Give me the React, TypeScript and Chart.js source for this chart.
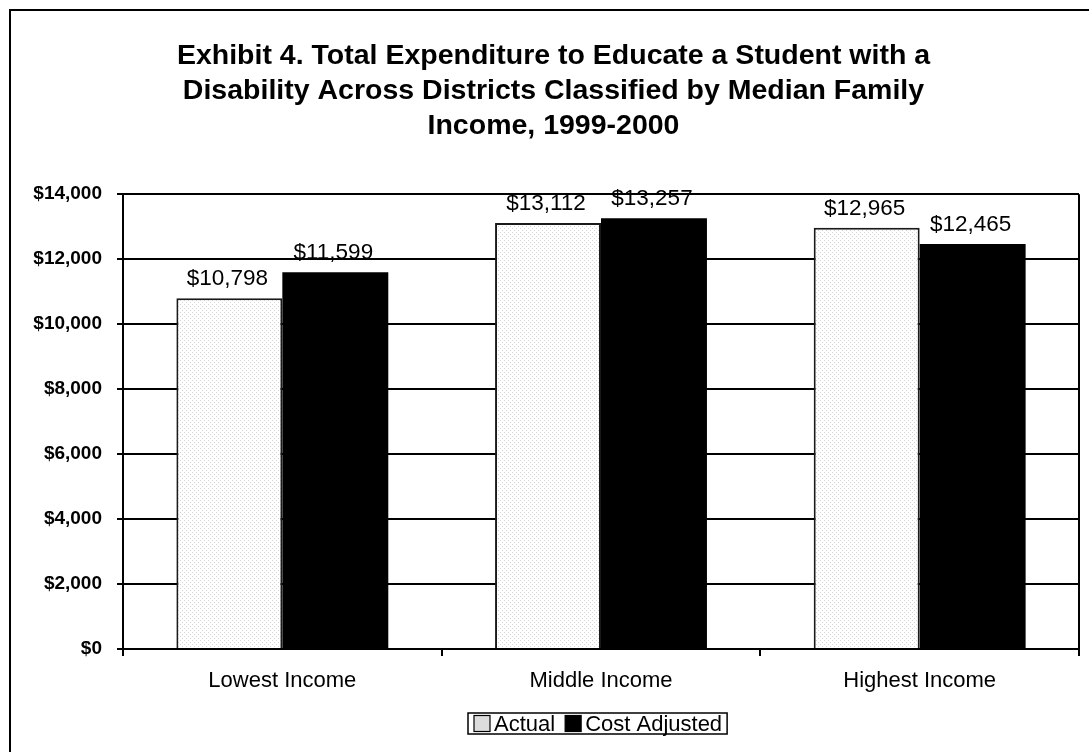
import React, { useEffect, useRef } from "react";
import { Chart, registerables } from "chart.js";

Chart.register(...registerables);

// ---- data ----
const titleLines = [
  "Exhibit 4. Total Expenditure to Educate a Student with a",
  "Disability Across Districts Classified by Median Family",
  "Income, 1999-2000",
];
const categories = ["Lowest Income", "Middle Income", "Highest Income"];
const seriesNames = ["Actual", "Cost Adjusted"];
const actualValues = [10798, 13112, 12965];
const costAdjustedValues = [11599, 13257, 12465];
const yMin = 0;
const yMax = 14000;
const yStep = 2000;

const FONT = '"Liberation Sans", Arial, Helvetica, sans-serif';

const fmtMoney = (v: number) => "$" + Number(v).toLocaleString("en-US");

function makePattern(): CanvasPattern | string {
  const c = document.createElement("canvas");
  c.width = 4;
  c.height = 4;
  const g = c.getContext("2d");
  if (!g) return "#f6f6f6";
  g.fillStyle = "#ffffff";
  g.fillRect(0, 0, 4, 4);
  g.fillStyle = "#d4d4d4";
  g.fillRect(0, 0, 1, 1);
  g.fillRect(2, 2, 1, 1);
  const p = g.createPattern(c, "repeat");
  return p || "#f6f6f6";
}

const framePlugin = {
  id: "framePlugin",
  afterDraw(chart: any) {
    const { ctx, chartArea } = chart;
    ctx.save();
    ctx.strokeStyle = "#000";
    ctx.lineWidth = 2;
    // outer frame (top + left visible)
    ctx.beginPath();
    ctx.moveTo(10, chart.height);
    ctx.lineTo(10, 10);
    ctx.lineTo(chart.width, 10);
    ctx.stroke();
    // plot right border
    ctx.beginPath();
    ctx.moveTo(chartArea.right, chartArea.top);
    ctx.lineTo(chartArea.right, chartArea.bottom);
    ctx.stroke();
    ctx.restore();
  },
};

const valueLabelPlugin = {
  id: "valueLabelPlugin",
  afterDatasetsDraw(chart: any) {
    const { ctx } = chart;
    ctx.save();
    ctx.font = `22.5px ${FONT}`;
    ctx.fillStyle = "#000";
    ctx.textAlign = "center";
    ctx.textBaseline = "alphabetic";
    chart.data.datasets.forEach((ds: any, di: number) => {
      const meta = chart.getDatasetMeta(di);
      meta.data.forEach((el: any, i: number) => {
        ctx.fillText(fmtMoney(ds.data[i]), el.x - 2, el.y - 13);
      });
    });
    ctx.restore();
  },
};

const legendPlugin = {
  id: "legendPlugin",
  afterDraw(chart: any) {
    const { ctx, chartArea } = chart;
    const datasets = chart.data.datasets;
    ctx.save();
    ctx.font = `22px ${FONT}`;
    const box = 16;
    const padL = 6;
    const gapBoxText = 4;
    const gapItems = 10;
    const padR = 5;
    const widths = datasets.map((d: any) => ctx.measureText(d.label).width);
    let total = padL + padR;
    widths.forEach((w: number, i: number) => {
      total += box + gapBoxText + w + (i < widths.length - 1 ? gapItems : 0);
    });
    const cx = (chartArea.left + chartArea.right) / 2 - 3;
    const left = Math.round(cx - total / 2);
    const top = chartArea.bottom + 64;
    const h = 21;
    ctx.strokeStyle = "#000";
    ctx.lineWidth = 1.5;
    ctx.strokeRect(left, top, total, h);
    let x = left + padL;
    const midY = top + h / 2;
    datasets.forEach((d: any, i: number) => {
      ctx.fillStyle = d.legendColor || d.backgroundColor;
      ctx.fillRect(x, midY - box / 2, box, box);
      ctx.strokeStyle = "#000";
      ctx.lineWidth = 1.2;
      ctx.strokeRect(x, midY - box / 2, box, box);
      x += box + gapBoxText;
      ctx.fillStyle = "#000";
      ctx.textAlign = "left";
      ctx.textBaseline = "middle";
      ctx.fillText(d.label, x, midY + 1);
      x += widths[i] + gapItems;
    });
    ctx.restore();
  },
};

export default function App() {
  const canvasRef = useRef<HTMLCanvasElement | null>(null);

  useEffect(() => {
    const canvas = canvasRef.current;
    if (!canvas) return;
    const pattern = makePattern();
    const chart = new Chart(canvas, {
      type: "bar",
      data: {
        labels: categories,
        datasets: [
          {
            label: seriesNames[0],
            data: actualValues,
            backgroundColor: pattern as any,
            legendColor: "#dcdcdc",
            borderColor: "#1a1a1a",
            borderWidth: 2,
            categoryPercentage: 0.665,
            barPercentage: 1,
          } as any,
          {
            label: seriesNames[1],
            data: costAdjustedValues,
            backgroundColor: "#000000",
            borderColor: "#000000",
            borderWidth: 0,
            categoryPercentage: 0.665,
            barPercentage: 1,
          } as any,
        ],
      },
      options: {
        responsive: false,
        animation: false,
        layout: { padding: { left: 28, right: 10, top: 0, bottom: 53 } },
        plugins: {
          legend: { display: false },
          tooltip: { enabled: false },
          title: {
            display: true,
            text: titleLines,
            color: "#000",
            font: { family: FONT, size: 28.5, weight: "bold", lineHeight: 1.23 },
            padding: { top: 38.5, bottom: 50.5 },
          },
        },
        scales: {
          x: {
            ticks: {
              color: "#000",
              font: { family: FONT, size: 22 },
              padding: 12,
            },
            grid: {
              display: true,
              drawOnChartArea: false,
              offset: true,
              color: "#000",
              lineWidth: 2,
              tickLength: 7,
            },
            border: { color: "#000", width: 2 },
            afterFit: (s: any) => {
              s.height = 50;
            },
          },
          y: {
            min: yMin,
            max: yMax,
            ticks: {
              stepSize: yStep,
              color: "#000",
              font: { family: FONT, size: 19, weight: "bold" },
              padding: 15,
              callback: (v: any) => fmtMoney(Number(v)),
            },
            grid: {
              color: "#000",
              lineWidth: 2,
              tickLength: 6,
            },
            border: { color: "#000", width: 2 },
            afterFit: (s: any) => {
              s.width = 95;
            },
          },
        },
      },
      plugins: [valueLabelPlugin, legendPlugin, framePlugin],
    });
    return () => chart.destroy();
  }, []);

  return (
    <div
      style={{
        position: "absolute",
        left: 0,
        top: 0,
        width: 1089,
        height: 752,
        background: "#fff",
      }}
    >
      <canvas ref={canvasRef} width={1089} height={752} />
    </div>
  );
}
